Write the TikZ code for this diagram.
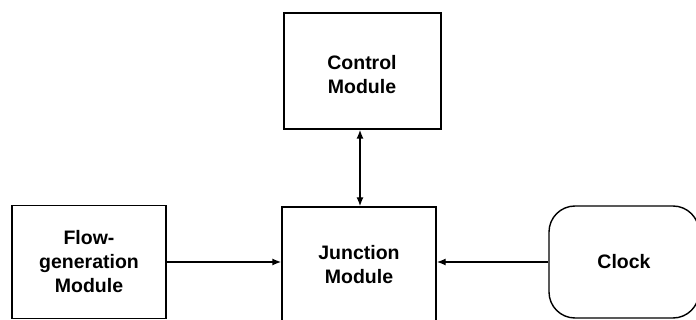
\documentclass[tikz,border=0pt]{standalone}
\usepackage{fontspec}
\setmainfont{Liberation Sans}
\usetikzlibrary{arrows.meta}
\tikzset{
  box/.style={draw=black, line width=1.4pt, align=center, inner sep=0pt,
    font=\fontsize{19.5}{24}\selectfont\bfseries},
  roundbox/.style={box, rounded corners=26pt},
  link/.style={draw=black, line width=1.4pt, -{Latex[length=9pt,width=7pt]}},
  dlink/.style={link, {Latex[length=9pt,width=7pt]}-{Latex[length=9pt,width=7pt]}},
}

\begin{document}
\begin{tikzpicture}[x=1pt,y=-1pt]
  \useasboundingbox (0,0) rectangle (696,320);

  % modules
  \node[box, minimum width=157pt, minimum height=116pt] (ctrl) at (362.5,71) {};
  \node[font=\fontsize{19.5}{24}\selectfont\bfseries, align=center] (ctrltxt) at (362,75) {Control\\Module};
  \node[box, minimum width=154pt, minimum height=113pt] (flowgen) at (89,262) {Flow-\\generation\\Module};
  \node[box, minimum width=154pt, minimum height=116pt] (junction) at (359,265) {Junction\\Module};
  \node[roundbox, minimum width=150pt, minimum height=112pt] (clock) at (624,262) {Clock};

  % connections
  \draw[dlink] (ctrl.south -| 360,0) -- (junction.north -| 360,0);
  \draw[link] (flowgen.east) -- (flowgen.east -| junction.west);
  \draw[link] (clock.west) -- (clock.west -| junction.east);
\end{tikzpicture}
\end{document}
